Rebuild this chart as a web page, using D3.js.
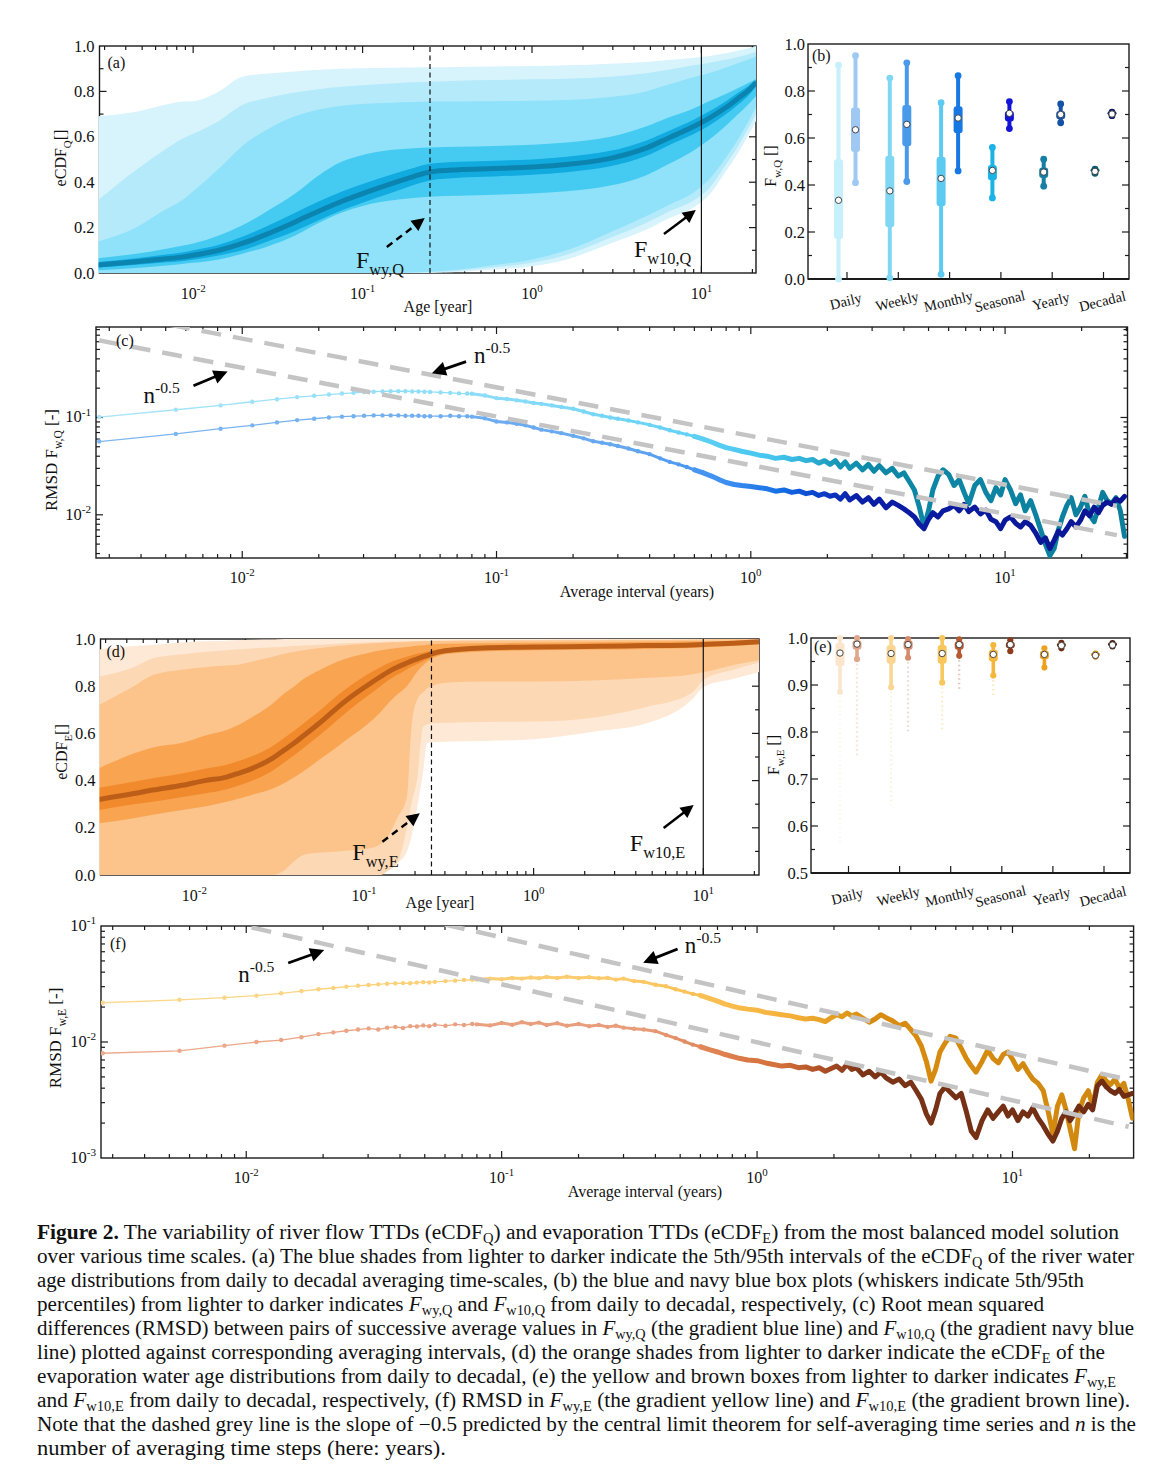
<!DOCTYPE html>
<html>
<head>
<meta charset="utf-8">
<script src="https://cdn.jsdelivr.net/npm/d3@7"></script>
<style>
  body { margin: 0; background: #fff; }
  text { font-family: "Liberation Serif", "Times New Roman", serif; fill: #111; }
</style>
</head>
<body>
<script>
// categories shared by (b) and (e)
var timeScales = ['Daily', 'Weekly', 'Monthly', 'Seasonal', 'Yearly', 'Decadal'];

// (a) eCDF_Q 5th/95th envelopes for each averaging scale, age in years
var ageQ = [0.00274, 0.0046, 0.0067, 0.0086, 0.01, 0.0142, 0.0195, 0.027, 0.04, 0.055, 0.075, 0.1, 0.15, 0.2, 0.25, 0.37, 0.6, 1, 1.6, 2.9, 4.7, 6.4, 9, 11, 14, 16.5, 19, 21];
var ecdfQDailyHi    = [0.69, 0.71, 0.74, 0.755, 0.757, 0.80, 0.865, 0.878, 0.888, 0.895, 0.90, 0.902, 0.904, 0.905, 0.906, 0.908, 0.91, 0.912, 0.915, 0.922, 0.93, 0.938, 0.948, 0.955, 0.968, 0.98, 0.99, 1.0];
var ecdfQDailyLo    = [0, 0, 0, 0, 0, 0, 0, 0, 0, 0, 0, 0, 0, 0, 0, 0.005, 0.015, 0.03, 0.06, 0.13, 0.19, 0.24, 0.29, 0.34, 0.45, 0.53, 0.61, 0.67];
var ecdfQWeeklyHi   = [0.32, 0.454, 0.54, 0.59, 0.613, 0.67, 0.74, 0.77, 0.795, 0.81, 0.82, 0.827, 0.835, 0.84, 0.843, 0.847, 0.85, 0.853, 0.856, 0.865, 0.88, 0.895, 0.915, 0.925, 0.94, 0.952, 0.964, 0.975];
var ecdfQWeeklyLo   = [0, 0, 0, 0, 0, 0, 0, 0, 0, 0, 0, 0, 0, 0, 0.003, 0.01, 0.025, 0.045, 0.08, 0.155, 0.22, 0.27, 0.32, 0.37, 0.48, 0.56, 0.64, 0.70];
var ecdfQMonthlyHi  = [0.138, 0.2, 0.275, 0.32, 0.36, 0.46, 0.56, 0.63, 0.69, 0.72, 0.737, 0.745, 0.75, 0.753, 0.755, 0.756, 0.757, 0.759, 0.762, 0.775, 0.8, 0.83, 0.862, 0.88, 0.905, 0.925, 0.94, 0.955];
var ecdfQMonthlyLo  = [0, 0, 0, 0, 0, 0, 0, 0, 0, 0, 0, 0, 0, 0.003, 0.006, 0.015, 0.035, 0.06, 0.1, 0.18, 0.25, 0.3, 0.355, 0.41, 0.51, 0.59, 0.67, 0.73];
var ecdfQSeasonalHi = [0.065, 0.085, 0.105, 0.12, 0.13, 0.165, 0.21, 0.27, 0.35, 0.43, 0.49, 0.52, 0.543, 0.55, 0.553, 0.556, 0.56, 0.565, 0.575, 0.6, 0.645, 0.685, 0.725, 0.755, 0.79, 0.815, 0.838, 0.855];
var ecdfQSeasonalLo = [0.012, 0.022, 0.032, 0.04, 0.045, 0.06, 0.085, 0.115, 0.165, 0.22, 0.265, 0.295, 0.32, 0.33, 0.336, 0.34, 0.345, 0.35, 0.36, 0.385, 0.43, 0.48, 0.54, 0.585, 0.65, 0.7, 0.745, 0.78];
var ecdfQYearlyHi   = [0.048, 0.065, 0.08, 0.09, 0.1, 0.125, 0.16, 0.205, 0.265, 0.315, 0.358, 0.392, 0.435, 0.463, 0.481, 0.49, 0.495, 0.5, 0.512, 0.538, 0.583, 0.626, 0.675, 0.71, 0.758, 0.795, 0.825, 0.85];
var ecdfQYearlyLo   = [0.024, 0.036, 0.046, 0.052, 0.058, 0.077, 0.1, 0.137, 0.185, 0.232, 0.275, 0.31, 0.355, 0.388, 0.408, 0.42, 0.425, 0.433, 0.444, 0.47, 0.515, 0.562, 0.612, 0.648, 0.7, 0.742, 0.782, 0.82];
var ecdfQDecadal    = [0.035, 0.05, 0.062, 0.07, 0.078, 0.1, 0.13, 0.17, 0.225, 0.272, 0.315, 0.35, 0.395, 0.425, 0.445, 0.455, 0.46, 0.467, 0.478, 0.505, 0.55, 0.595, 0.645, 0.68, 0.73, 0.77, 0.805, 0.84];

// (d) eCDF_E envelopes
var ageE = [0.00274, 0.0044, 0.0057, 0.0085, 0.0115, 0.0155, 0.0175, 0.022, 0.029, 0.034, 0.039, 0.044, 0.055, 0.07, 0.085, 0.103, 0.125, 0.14, 0.157, 0.179, 0.19, 0.205, 0.224, 0.235, 0.25, 0.3, 0.5, 1, 2.4, 4.5, 8.5, 10.2, 15, 21.3];
var ecdfEDailyHi    = [0.955, 0.97, 0.975, 0.985, 0.99, 0.993, 0.995, 0.997, 0.998, 1, 1, 1, 1, 1, 1, 1, 1, 1, 1, 1, 1, 1, 1, 1, 1, 1, 1, 1, 1, 1, 1, 1, 1, 1];
var ecdfEDailyLo    = [0, 0, 0, 0, 0, 0, 0, 0, 0, 0, 0, 0, 0, 0, 0, 0, 0.007, 0.025, 0.05, 0.1, 0.16, 0.28, 0.445, 0.558, 0.562, 0.565, 0.568, 0.575, 0.61, 0.64, 0.74, 0.8, 0.83, 0.86];
var ecdfEWeeklyHi   = [0.84, 0.88, 0.918, 0.935, 0.945, 0.952, 0.955, 0.96, 0.965, 0.967, 0.97, 0.972, 0.976, 0.98, 0.983, 0.985, 0.987, 0.988, 0.989, 0.99, 0.99, 0.991, 0.992, 0.992, 0.993, 0.994, 0.995, 0.996, 0.997, 0.998, 0.999, 1, 1, 1];
var ecdfEWeeklyLo   = [0, 0, 0, 0, 0, 0, 0, 0, 0, 0, 0, 0, 0, 0, 0, 0, 0, 0.02, 0.05, 0.2, 0.3, 0.4, 0.63, 0.638, 0.643, 0.645, 0.648, 0.65, 0.67, 0.71, 0.77, 0.83, 0.87, 0.9];
var ecdfEMonthlyHi  = [0.72, 0.8, 0.847, 0.87, 0.88, 0.888, 0.89, 0.905, 0.925, 0.938, 0.946, 0.952, 0.962, 0.97, 0.976, 0.98, 0.983, 0.985, 0.986, 0.987, 0.988, 0.989, 0.99, 0.99, 0.991, 0.992, 0.993, 0.994, 0.995, 0.996, 0.997, 0.998, 0.999, 1.0];
var ecdfEMonthlyLo  = [0, 0, 0, 0, 0, 0, 0, 0, 0, 0.02, 0.06, 0.085, 0.095, 0.1, 0.105, 0.11, 0.13, 0.17, 0.24, 0.33, 0.614, 0.74, 0.775, 0.79, 0.8, 0.815, 0.82, 0.82, 0.825, 0.835, 0.85, 0.86, 0.89, 0.91];
var ecdfESeasonalHi = [0.452, 0.515, 0.54, 0.56, 0.59, 0.614, 0.63, 0.67, 0.727, 0.77, 0.8, 0.83, 0.869, 0.905, 0.925, 0.939, 0.952, 0.958, 0.962, 0.966, 0.968, 0.971, 0.974, 0.976, 0.978, 0.98, 0.982, 0.984, 0.986, 0.988, 0.99, 0.99, 0.992, 0.995];
var ecdfESeasonalLo = [0.219, 0.24, 0.255, 0.275, 0.29, 0.31, 0.32, 0.34, 0.367, 0.39, 0.415, 0.44, 0.49, 0.545, 0.59, 0.635, 0.69, 0.73, 0.765, 0.8, 0.825, 0.86, 0.89, 0.903, 0.915, 0.935, 0.947, 0.952, 0.955, 0.958, 0.962, 0.965, 0.97, 0.978];
var ecdfEYearlyHi   = [0.37, 0.395, 0.41, 0.43, 0.45, 0.467, 0.479, 0.504, 0.547, 0.582, 0.612, 0.642, 0.697, 0.762, 0.807, 0.846, 0.88, 0.898, 0.912, 0.925, 0.93, 0.937, 0.943, 0.946, 0.95, 0.96, 0.969, 0.972, 0.975, 0.978, 0.98, 0.982, 0.986, 0.991];
var ecdfEYearlyLo   = [0.275, 0.3, 0.31, 0.33, 0.345, 0.363, 0.375, 0.4, 0.443, 0.478, 0.508, 0.538, 0.593, 0.658, 0.709, 0.754, 0.8, 0.826, 0.848, 0.871, 0.882, 0.893, 0.907, 0.914, 0.924, 0.94, 0.955, 0.96, 0.963, 0.966, 0.97, 0.972, 0.978, 0.985];
var ecdfEDecadal    = [0.32, 0.345, 0.36, 0.38, 0.4, 0.415, 0.427, 0.452, 0.495, 0.53, 0.56, 0.59, 0.645, 0.71, 0.758, 0.8, 0.84, 0.862, 0.88, 0.898, 0.906, 0.915, 0.925, 0.93, 0.937, 0.95, 0.962, 0.966, 0.969, 0.972, 0.975, 0.977, 0.982, 0.988];

// young water (3 months) and 10-year thresholds
var refAges = [0.25, 10];

// (b) box stats [5th, 25th, 75th, 95th, mean]
var fwyQStats  = [[0.0, 0.17, 0.51, 0.91, 0.335], [0.005, 0.22, 0.525, 0.855, 0.375], [0.02, 0.31, 0.52, 0.75, 0.428], [0.345, 0.42, 0.485, 0.56, 0.462], [0.395, 0.43, 0.475, 0.51, 0.455], [0.45, 0.452, 0.465, 0.467, 0.458]];
var fw10QStats = [[0.41, 0.54, 0.73, 0.95, 0.635], [0.415, 0.565, 0.74, 0.92, 0.658], [0.46, 0.62, 0.735, 0.865, 0.685], [0.64, 0.67, 0.715, 0.755, 0.705], [0.665, 0.68, 0.715, 0.745, 0.70], [0.695, 0.697, 0.707, 0.71, 0.702]];
// (e)
var fwyEStats  = [[0.885, 0.94, 0.99, 1.0, 0.968], [0.895, 0.945, 0.985, 1.0, 0.967], [0.905, 0.945, 0.985, 1.0, 0.967], [0.92, 0.95, 0.975, 0.985, 0.965], [0.937, 0.955, 0.973, 0.978, 0.965], [0.96, 0.961, 0.966, 0.967, 0.963]];
var fw10EStats = [[0.955, 0.975, 0.995, 1.0, 0.987], [0.958, 0.975, 0.995, 0.998, 0.986], [0.962, 0.975, 0.993, 0.997, 0.986], [0.972, 0.978, 0.992, 0.995, 0.986], [0.978, 0.98, 0.99, 0.99, 0.984], [0.982, 0.983, 0.988, 0.989, 0.985]];
var fwyEOutMin  = [0.56, 0.645, 0.805, 0.875, null, null];
var fw10EOutMin = [0.745, 0.795, 0.89, null, null, null];

// (c),(f) RMSD vs averaging interval; first part in days, then years
var sparseDays = [1, 2, 3, 4, 5, 6, 7, 8, 9, 10, 11, 12, 13, 14, 15, 16, 17, 18, 19, 20, 22, 24, 26, 28];
var denseYears = [0.08, 0.09, 0.10, 0.11, 0.12, 0.13, 0.14, 0.15, 0.165, 0.18,
  0.20, 0.22, 0.24, 0.26, 0.28, 0.30, 0.33, 0.36, 0.40, 0.44,
  0.48, 0.52, 0.56, 0.60, 0.65, 0.70, 0.75, 0.80, 0.86, 0.92,
  1.0, 1.08, 1.16, 1.25, 1.35, 1.45, 1.55, 1.65, 1.75, 1.85,
  1.95, 2.05, 2.15, 2.25, 2.35, 2.45, 2.6, 2.75, 2.9, 3.05,
  3.2, 3.4, 3.6, 3.8, 4.0, 4.2, 4.4, 4.6, 4.8, 5.0,
  5.2, 5.45, 5.7, 6.0, 6.3, 6.6, 6.9, 7.2, 7.6, 8.0,
  8.4, 8.8, 9.2, 9.6, 10.0, 10.5, 11.0, 11.5, 12.0, 12.6,
  13.2, 13.8, 14.4, 15.0, 15.6, 16.2, 16.8, 17.5, 18.2, 19.0,
  19.8, 20.6, 21.5, 22.4, 23.3, 24.2, 25.2, 26.2, 27.3, 28.4, 29.5];

var rmsdFwyQSparse  = [0.101, 0.120, 0.133, 0.145, 0.154, 0.162, 0.167, 0.172, 0.176, 0.179, 0.182, 0.184, 0.185, 0.186, 0.186, 0.186, 0.185, 0.185, 0.184, 0.183, 0.181, 0.179, 0.177, 0.176];
var rmsdFwyQDense = [0.175, 0.168, 0.158, 0.155, 0.150, 0.146, 0.141, 0.138, 0.133, 0.128,
  0.123, 0.115, 0.108, 0.104, 0.100, 0.097, 0.093, 0.089, 0.084, 0.079,
  0.074, 0.070, 0.067, 0.064, 0.060, 0.056, 0.052, 0.049, 0.047, 0.045,
  0.043, 0.041, 0.040, 0.038, 0.039, 0.037, 0.038, 0.036, 0.037, 0.034,
  0.036, 0.033, 0.036, 0.031, 0.035, 0.030, 0.034, 0.029, 0.033, 0.028,
  0.032, 0.027, 0.030, 0.025, 0.027, 0.022, 0.018, 0.012, 0.0075, 0.011,
  0.018, 0.025, 0.029, 0.026, 0.020, 0.023, 0.017, 0.013, 0.020, 0.023,
  0.017, 0.014, 0.019, 0.016, 0.023, 0.018, 0.013, 0.016, 0.011, 0.014,
  0.010, 0.007, 0.005, 0.0038, 0.0045, 0.007, 0.0095, 0.0125, 0.015, 0.010,
  0.012, 0.0155, 0.010, 0.0085, 0.012, 0.017, 0.014, 0.013, 0.015, 0.011, 0.006];
var rmsdFw10QSparse = [0.0566, 0.0678, 0.0767, 0.083, 0.089, 0.094, 0.097, 0.100, 0.102, 0.103, 0.104, 0.105, 0.105, 0.105, 0.105, 0.104, 0.104, 0.104, 0.103, 0.103, 0.103, 0.104, 0.103, 0.103];
var rmsdFw10QDense = [0.102, 0.098, 0.091, 0.089, 0.086, 0.083, 0.079, 0.075, 0.072, 0.069,
  0.065, 0.061, 0.057, 0.055, 0.053, 0.051, 0.048, 0.045, 0.042, 0.038,
  0.035, 0.033, 0.031, 0.029, 0.027, 0.025, 0.023, 0.0215, 0.0205, 0.020,
  0.0195, 0.019, 0.0185, 0.0175, 0.018, 0.017, 0.0175, 0.0165, 0.017, 0.0158,
  0.0165, 0.0155, 0.016, 0.0145, 0.0165, 0.0142, 0.0158, 0.0135, 0.015, 0.0128,
  0.0145, 0.0118, 0.0135, 0.0125, 0.0115, 0.0105, 0.0095, 0.008, 0.0072, 0.009,
  0.0105, 0.0095, 0.011, 0.0115, 0.0125, 0.011, 0.0128, 0.0108, 0.012, 0.0102,
  0.0112, 0.009, 0.0085, 0.0072, 0.0088, 0.0095, 0.0082, 0.0075, 0.0085, 0.0078,
  0.0065, 0.0052, 0.0058, 0.0045, 0.0055, 0.0068, 0.0062, 0.0072, 0.0085, 0.0075,
  0.0088, 0.011, 0.0098, 0.012, 0.0105, 0.0125, 0.0135, 0.0128, 0.0145, 0.0138, 0.0155];
var rmsdFwyESparse  = [0.0218, 0.0231, 0.0241, 0.0251, 0.0263, 0.0275, 0.0285, 0.0292, 0.030, 0.0305, 0.031, 0.0314, 0.0318, 0.032, 0.0322, 0.0321, 0.0325, 0.0328, 0.0326, 0.033, 0.0335, 0.0338, 0.0342, 0.0344];
var rmsdFwyEDense = [0.0345, 0.0352, 0.0348, 0.0356, 0.0352, 0.036, 0.0355, 0.0363, 0.0357, 0.0365,
  0.0356, 0.0362, 0.0354, 0.0357, 0.0345, 0.0352, 0.0335, 0.033, 0.0312, 0.0302,
  0.0285, 0.0272, 0.026, 0.0252, 0.0238, 0.0225, 0.0212, 0.0204, 0.0196, 0.0192,
  0.0188, 0.018, 0.0176, 0.0172, 0.0168, 0.0162, 0.0158, 0.016, 0.0156, 0.015,
  0.0162, 0.0172, 0.0165, 0.0178, 0.0168, 0.0174, 0.016, 0.0148, 0.0158, 0.0172,
  0.0162, 0.0152, 0.0138, 0.0145, 0.0128, 0.0112, 0.0092, 0.0068, 0.0046, 0.0058,
  0.0082, 0.0098, 0.0112, 0.0108, 0.0088, 0.0072, 0.0062, 0.0055, 0.0068, 0.0085,
  0.0072, 0.0066, 0.0078, 0.0082, 0.0071, 0.0058, 0.0065, 0.0055, 0.0048, 0.0044,
  0.0038, 0.0025, 0.0016, 0.0028, 0.0035, 0.0026, 0.0018, 0.0012, 0.0025, 0.0033,
  0.0038, 0.0028, 0.0045, 0.0052, 0.0046, 0.0043, 0.0048, 0.004, 0.0044, 0.0032, 0.0022];
var rmsdFw10ESparse = [0.008, 0.0084, 0.0093, 0.010, 0.0104, 0.011, 0.0117, 0.0121, 0.0125, 0.0128, 0.0131, 0.0128, 0.0133, 0.0135, 0.0132, 0.0137, 0.0136, 0.0139, 0.0137, 0.0141, 0.0138, 0.0142, 0.014, 0.0143];
var rmsdFw10EDense = [0.0142, 0.0139, 0.0146, 0.0141, 0.0148, 0.0143, 0.0147, 0.014, 0.0145, 0.0138,
  0.0143, 0.0137, 0.014, 0.0135, 0.0138, 0.0133, 0.013, 0.0128, 0.0124, 0.0115,
  0.0108, 0.0101, 0.0095, 0.0091, 0.0086, 0.0082, 0.0078, 0.0075, 0.0072, 0.007,
  0.0069, 0.0066, 0.0064, 0.0062, 0.0063, 0.006, 0.0061, 0.0058, 0.006, 0.0056,
  0.0059, 0.0062, 0.0057, 0.0064, 0.0058, 0.006, 0.0052, 0.0056, 0.005, 0.0055,
  0.0049, 0.0045, 0.0048, 0.0042, 0.0045, 0.0038, 0.0032, 0.0024, 0.002, 0.0026,
  0.0036, 0.0041, 0.0037, 0.0033, 0.0036, 0.0025, 0.0017, 0.0015, 0.0021, 0.0026,
  0.0022, 0.0025, 0.0028, 0.0023, 0.0026, 0.0021, 0.0025, 0.0023, 0.0027, 0.0022,
  0.0019, 0.0016, 0.0014, 0.0017, 0.0022, 0.0025, 0.0021, 0.0024, 0.0028, 0.0025,
  0.0029, 0.0026, 0.0042, 0.0046, 0.0041, 0.0038, 0.0036, 0.0039, 0.0034, 0.0035, 0.0036];

// n^-0.5 guide lines, end points [interval, rmsd]
var slopeLinesC = [[[0.0052, 0.895], [27.5, 0.0123]], [[0.00274, 0.619], [27.5, 0.00618]]];
var slopeLinesF = [[[0.06, 0.103], [27, 0.00485]], [[0.0105, 0.0971], [28.5, 0.00186]]];

// annotation anchors in data units
var notesA = [[0.0914, 0.022, 'wy,Q'], [4.0, 0.0705, 'w10,Q']];
var arrowsA = [[0.139, 0.1145, 0.2328, 0.2423, true], [6.01, 0.1718, 9.27, 0.2775, false]];
var notesD = [[0.0854, 0.0636, 'wy,E'], [3.69, 0.1017, 'w10,E']];
var arrowsD = [[0.1285, 0.141, 0.2133, 0.2614, true], [5.84, 0.199, 8.78, 0.2966, false]];
var notesC = [[0.00409, 0.141], [0.0816, 0.363]];
var arrowsC = [[0.00643, 0.212, 0.00876, 0.296], [0.0759, 0.3746, 0.0557, 0.2846]];
var notesF = [[0.0093, 0.0329], [0.521, 0.0585]];
var arrowsF = [[0.0146, 0.048, 0.0202, 0.062], [0.4884, 0.0634, 0.358, 0.0483]];

// ---------------------------------------------------------------
var svg = d3.select('body').append('svg').attr('width', 1168).attr('height', 1481).style('display', 'block');
svg.append('rect').attr('width', 1168).attr('height', 1481).attr('fill', '#fff');
var defs = svg.append('defs');
var INK = '#1b1b1b';

function rich(sel, parts, size, subShift) {
  var shift = 0, sub = subShift || 0.3;
  parts.forEach(function (p) {
    var t = sel.append('tspan').text(p[0]);
    var want = p[1] === 'sub' ? size * sub : (p[1] === 'sup' ? -size * 0.42 : 0);
    if (want !== shift) { t.attr('dy', want - shift); shift = want; }
    if (p[1] === 'sub' || p[1] === 'sup') t.attr('font-size', (size * 0.68) + 'px');
    if (p[1] === 'i') t.attr('font-style', 'italic');
    if (p[1] === 'b') t.attr('font-weight', 'bold');
  });
  return sel;
}
function label(g, x, y, parts, size, anchor, rot) {
  var t = g.append('text').attr('font-size', size + 'px').attr('text-anchor', anchor || 'start');
  if (rot) t.attr('transform', 'translate(' + x + ',' + y + ') rotate(' + rot + ')');
  else t.attr('x', x).attr('y', y);
  return rich(t, parts, size);
}
function logTicks(s) {
  return s.ticks().map(function (v) {
    var e = Math.log10(v);
    return { v: v, major: Math.abs(e - Math.round(e)) < 1e-6 };
  });
}
function linTicks(s, step) {
  var d = s.domain(), n = Math.round((d[1] - d[0]) / (step / 2)), out = [];
  for (var i = 0; i <= n; i++) out.push({ v: d[0] + i * step / 2, major: i % 2 === 0 });
  return out;
}
function frame(g, X, Y, x, y, xt, yt, top) {
  g.append('rect').attr('x', X[0]).attr('y', Y[1]).attr('width', X[1] - X[0]).attr('height', Y[0] - Y[1])
    .attr('fill', 'none').attr('stroke', INK).attr('stroke-width', 1.4);
  var tg = g.append('g').attr('stroke', INK).attr('stroke-width', 1.2);
  xt.forEach(function (t) {
    var p = x(t.v); if (p < X[0] + 1 || p > X[1] - 1) return;
    var L = t.major ? 7 : 4;
    tg.append('line').attr('x1', p).attr('x2', p).attr('y1', Y[0]).attr('y2', Y[0] - L);
    if (top) tg.append('line').attr('x1', p).attr('x2', p).attr('y1', Y[1]).attr('y2', Y[1] + L);
  });
  yt.forEach(function (t) {
    var p = y(t.v); if (p > Y[0] - 1 || p < Y[1] + 1) return;
    var L = t.major ? 7 : 4;
    tg.append('line').attr('y1', p).attr('y2', p).attr('x1', X[0]).attr('x2', X[0] + L);
    tg.append('line').attr('y1', p).attr('y2', p).attr('x1', X[1]).attr('x2', X[1] - L);
  });
}
function decadeLabelsX(g, x, ticks, yBase) {
  ticks.filter(function (t) { return t.major; }).forEach(function (t) {
    label(g, x(t.v), yBase, [['10', ''], [String(Math.round(Math.log10(t.v))), 'sup']], 16, 'middle');
  });
}
function decadeLabelsY(g, y, ticks, xEnd) {
  ticks.filter(function (t) { return t.major; }).forEach(function (t) {
    label(g, xEnd, y(t.v) + 5, [['10', ''], [String(Math.round(Math.log10(t.v))), 'sup']], 16.5, 'end');
  });
}
function arrow(g, x1, y1, x2, y2, dashed, w, hl, hw) {
  var dx = x2 - x1, dy = y2 - y1, L = Math.sqrt(dx * dx + dy * dy), ux = dx / L, uy = dy / L;
  var bx = x2 - ux * hl, by = y2 - uy * hl;
  g.append('line').attr('x1', x1).attr('y1', y1).attr('x2', bx + ux * 1).attr('y2', by + uy * 1)
    .attr('stroke', '#000').attr('stroke-width', w).attr('stroke-dasharray', dashed ? '7,5' : null);
  g.append('path').attr('d', 'M' + x2 + ',' + y2 + 'L' + (bx - uy * hw) + ',' + (by + ux * hw) + 'L' + (bx + uy * hw) + ',' + (by - ux * hw) + 'Z')
    .attr('fill', '#000');
}
function clip(id, X, Y, pad) {
  defs.append('clipPath').attr('id', id).append('rect')
    .attr('x', X[0] - pad).attr('y', Y[1] - pad).attr('width', X[1] - X[0] + 2 * pad).attr('height', Y[0] - Y[1] + 2 * pad);
  return 'url(#' + id + ')';
}

// ---------------- eCDF panels (a) and (d) ----------------
function ecdfPanel(o) {
  var x = d3.scaleLog().domain(o.xDom).range(o.X);
  var y = d3.scaleLinear().domain([0, 1]).range(o.Y);
  var g = svg.append('g');
  var xt = logTicks(x);
  frame(g, o.X, o.Y, x, y, xt, linTicks(y, 0.2), true);
  var dg = g.append('g').attr('clip-path', clip(o.id, o.X, o.Y, 0.8));
  o.bands.forEach(function (b, k) {
    var area = d3.area()
      .x(function (d) { return x(d); })
      .y0(function (d, i) { return y(b[0][i]); })
      .y1(function (d, i) { return y(b[1][i]); })
      .curve(d3.curveMonotoneX);
    dg.append('path').attr('d', area(o.ages)).attr('fill', o.colors[k]);
  });
  var mid = d3.line().x(function (d) { return x(d); }).y(function (d, i) { return y(o.mid[i]); }).curve(d3.curveMonotoneX);
  dg.append('path').attr('d', mid(o.ages)).attr('fill', 'none').attr('stroke', o.midColor).attr('stroke-width', 5);
  refAges.forEach(function (a, k) {
    g.append('line').attr('x1', x(a)).attr('x2', x(a)).attr('y1', o.Y[0]).attr('y2', o.Y[1])
      .attr('stroke', '#111').attr('stroke-width', 1.2).attr('stroke-dasharray', k === 0 ? '5,3.5' : null);
  });
  o.notes.forEach(function (n) {
    label(g, x(n[0]), y(n[1]), [['F', ''], [n[2], 'sub']], 24);
  });
  o.arrows.forEach(function (a) {
    arrow(g, x(a[0]), y(a[1]), x(a[2]), y(a[3]), a[4], 2.4, 13, 6.5);
  });
  linTicks(y, 0.2).filter(function (t) { return t.major; }).forEach(function (t) {
    label(g, o.X[0] - 5, y(t.v) + 5.5, [[t.v.toFixed(1), '']], 16.5, 'end');
  });
  decadeLabelsX(g, x, xt, o.Y[0] + 26);
  label(g, o.titleX, o.Y[0] + o.titleDy, [['Age [year]', '']], 16, 'middle');
  label(g, o.ylabX, o.ylabY, [['eCDF', ''], [o.sub, 'sub'], ['[]', '']], 16, 'middle', -90);
  label(g, o.X[0] + o.tag[1], o.Y[1] + o.tag[2], [[o.tag[0], '']], 16);
}

ecdfPanel({
  id: 'clipA', xDom: [0.0028, 21], X: [99.5, 756], Y: [273, 46], ages: ageQ,
  bands: [[ecdfQDailyLo, ecdfQDailyHi], [ecdfQWeeklyLo, ecdfQWeeklyHi], [ecdfQMonthlyLo, ecdfQMonthlyHi],
          [ecdfQSeasonalLo, ecdfQSeasonalHi], [ecdfQYearlyLo, ecdfQYearlyHi]],
  colors: ['#d7f3fc', '#b4eafa', '#8fe2f9', '#45cbf2', '#12abdf'],
  mid: ecdfQDecadal, midColor: '#0b84b0',
  notes: notesA, arrows: arrowsA, titleX: 438, titleDy: 39, ylabX: 66, ylabY: 158, sub: 'Q', tag: ['(a)', 8, 22]
});
ecdfPanel({
  id: 'clipD', xDom: [0.0028, 21.3], X: [100.5, 759], Y: [875, 639], ages: ageE,
  bands: [[ecdfEDailyLo, ecdfEDailyHi], [ecdfEWeeklyLo, ecdfEWeeklyHi], [ecdfEMonthlyLo, ecdfEMonthlyHi],
          [ecdfESeasonalLo, ecdfESeasonalHi], [ecdfEYearlyLo, ecdfEYearlyHi]],
  colors: ['#fde9d6', '#fdd8b4', '#fcc38a', '#f9a451', '#f08a2c'],
  mid: ecdfEDecadal, midColor: '#bd5e18',
  notes: notesD, arrows: arrowsD, titleX: 440, titleDy: 33, ylabX: 67, ylabY: 752, sub: 'E', tag: ['(d)', 6, 18]
});

// ---------------- box panels (b) and (e) ----------------
function boxPanel(o) {
  var xc = d3.scalePoint().domain(timeScales).range(o.cx);
  var y = d3.scaleLinear().domain(o.yDom).range(o.Y);
  var g = svg.append('g');
  var yt = linTicks(y, o.step);
  frame(g, o.X, o.Y, function (c) { return xc(c); }, y, timeScales.map(function (c) { return { v: c, major: true }; }), yt, false);
  g.append('line').attr('x1', o.X[0]).attr('x2', o.X[1]).attr('y1', o.Y[0]).attr('y2', o.Y[0]).attr('stroke', INK).attr('stroke-width', 2);
  function boxes(stats, colors, dx, outMin) {
    stats.forEach(function (s, i) {
      var cx = xc(timeScales[i]) + dx, c = colors[i];
      if (outMin && outMin[i] != null) {
        g.append('line').attr('x1', cx).attr('x2', cx).attr('y1', y(s[0])).attr('y2', y(outMin[i]))
          .attr('stroke', c).attr('stroke-width', 2.2).attr('stroke-dasharray', '1.5,3').attr('opacity', 0.35);
      }
      g.append('line').attr('x1', cx).attr('x2', cx).attr('y1', y(s[0])).attr('y2', y(s[3]))
        .attr('stroke', c).attr('stroke-width', o.ww);
      [s[0], s[3]].forEach(function (v) {
        g.append('circle').attr('cx', cx).attr('cy', y(v)).attr('r', o.ww * 0.85).attr('fill', c);
      });
      var top = y(s[2]), h = Math.max(y(s[1]) - top, 4);
      g.append('rect').attr('x', cx - o.bw / 2).attr('y', top - (h === 4 ? 1.5 : 0)).attr('width', o.bw).attr('height', h)
        .attr('rx', 3).attr('fill', c);
      g.append('circle').attr('cx', cx).attr('cy', y(s[4])).attr('r', 3.2).attr('fill', '#fff').attr('stroke', '#333').attr('stroke-width', 0.9);
    });
  }
  boxes(o.light, o.lightColors, -8.5, o.lightOut);
  boxes(o.dark, o.darkColors, 8.5, o.darkOut);
  yt.filter(function (t) { return t.major; }).forEach(function (t) {
    label(g, o.X[0] - 3, y(t.v) + 5.5, [[t.v.toFixed(1), '']], 16.5, 'end');
  });
  timeScales.forEach(function (c) {
    label(g, xc(c), o.Y[0] + o.catDy, [[c, '']], 14.5, 'middle', -14);
  });
  label(g, o.ylabX, o.ylabY, [['F', ''], [o.sub, 'sub'], [' []', '']], 16, 'middle', -90);
  label(g, o.X[0] + o.tag[1], o.Y[1] + o.tag[2], [[o.tag[0], '']], 16);
}

boxPanel({
  X: [808, 1129], Y: [279, 44], cx: [847, 1103.5], yDom: [0, 1], step: 0.2, ww: 4, bw: 9,
  light: fwyQStats, dark: fw10QStats,
  lightColors: ['#c6f0fb', '#80d7f3', '#5ccaf1', '#1bb3e5', '#167fa3', '#0c5a72'],
  darkColors: ['#9fc9f3', '#4a9aec', '#1878e3', '#1414d6', '#1552a6', '#0b1c6a'],
  catDy: 27, ylabX: 776, ylabY: 166, sub: 'w,Q', tag: ['(b)', 4, 17]
});
boxPanel({
  X: [811, 1130], Y: [873, 638], cx: [848.5, 1104], yDom: [0.5, 1], step: 0.1, ww: 3.6, bw: 9,
  light: fwyEStats, dark: fw10EStats, lightOut: fwyEOutMin, darkOut: fw10EOutMin,
  lightColors: ['#fbe6cc', '#fbd693', '#f8c75e', '#f5b63b', '#eca220', '#cf9016'],
  darkColors: ['#e1a78c', '#d68b6e', '#b65a32', '#8e3b1b', '#6d2c12', '#4b1b0a'],
  catDy: 28, ylabX: 779, ylabY: 755, sub: 'w,E', tag: ['(e)', 3, 14]
});

// ---------------- RMSD panels (c) and (f) ----------------
function gradient(id, x, stops) {
  var X = x.range();
  var lg = defs.append('linearGradient').attr('id', id).attr('gradientUnits', 'userSpaceOnUse')
    .attr('x1', X[0]).attr('x2', X[1]).attr('y1', 0).attr('y2', 0);
  stops.forEach(function (s) {
    lg.append('stop').attr('offset', (x(s[0]) - X[0]) / (X[1] - X[0])).attr('stop-color', s[1]);
  });
  return 'url(#' + id + ')';
}
function rmsdPanel(o) {
  var x = d3.scaleLog().domain(o.xDom).range(o.X);
  var y = d3.scaleLog().domain(o.yDom).range(o.Y);
  var g = svg.append('g');
  var xt = logTicks(x), yt = logTicks(y);
  frame(g, o.X, o.Y, x, y, xt, yt, true);
  var dg = g.append('g').attr('clip-path', clip(o.id, o.X, o.Y, 0));
  var line = d3.line().x(function (d) { return x(d[0]); }).y(function (d) { return y(d[1]); });
  o.series.forEach(function (s, k) {
    var paint = gradient(o.id + 'g' + k, x, s.stops);
    var sparse = sparseDays.map(function (n, i) { return [n / 365, s.sparse[i]]; });
    var dense = denseYears.map(function (v, i) { return [v, s.dense[i]]; });
    dg.append('path').attr('d', line(sparse.concat(dense))).attr('fill', 'none').attr('stroke', paint).attr('stroke-width', 1.3);
    dg.append('path').attr('d', line(dense.slice(0, 24))).attr('fill', 'none').attr('stroke', paint).attr('stroke-width', 3)
      .attr('stroke-linejoin', 'round');
    dg.append('path').attr('d', line(dense.slice(23))).attr('fill', 'none').attr('stroke', paint).attr('stroke-width', 5)
      .attr('stroke-linejoin', 'round').attr('stroke-linecap', 'round');
    dg.selectAll(null).data(sparse.concat(dense.slice(0, 30))).enter().append('circle')
      .attr('cx', function (d) { return x(d[0]); }).attr('cy', function (d) { return y(d[1]); })
      .attr('r', 2.2).attr('fill', paint);
  });
  o.slopes.forEach(function (sl) {
    dg.append('path').attr('d', line(sl)).attr('fill', 'none').attr('stroke', '#c4c4c4')
      .attr('stroke-width', 4.5).attr('stroke-dasharray', '20,12');
  });
  o.notes.forEach(function (n) {
    label(g, x(n[0]), y(n[1]), [['n', ''], ['-0.5', 'sup']], 23);
  });
  o.arrows.forEach(function (a) {
    arrow(g, x(a[0]), y(a[1]), x(a[2]), y(a[3]), false, 2.8, 14, 7);
  });
  decadeLabelsX(g, x, xt, o.Y[0] + 25);
  decadeLabelsY(g, y, yt, o.X[0] - 5);
  label(g, o.titleX, o.Y[0] + 39, [['Average interval (years)', '']], 16, 'middle');
  label(g, o.ylabX, o.ylabY, [['RMSD F', ''], [o.sub, 'sub'], [' [-]', '']], 17, 'middle', -90);
  label(g, o.X[0] + o.tag[1], o.Y[1] + o.tag[2], [[o.tag[0], '']], 16);
}

rmsdPanel({
  id: 'clipC', xDom: [0.00266, 30.3], X: [96, 1127.5], yDom: [0.0036, 0.85], Y: [558, 327],
  series: [
    { sparse: rmsdFwyQSparse, dense: rmsdFwyQDense,
      stops: [[0.0027, '#a8e5f9'], [0.1, '#8adcf8'], [0.5, '#66d2f6'], [1.2, '#45c6ef'], [1.7, '#2fb0d6'], [2.2, '#1696b6'], [3, '#0e88a7'], [30, '#0b7e9c']] },
    { sparse: rmsdFw10QSparse, dense: rmsdFw10QDense,
      stops: [[0.0027, '#7fb8ef'], [0.3, '#66a8f0'], [0.8, '#3e8ff0'], [1.3, '#1470e6'], [1.9, '#0b3dc8'], [2.6, '#0a1ea6'], [30, '#0a1592']] }
  ],
  slopes: slopeLinesC, notes: notesC, arrows: arrowsC,
  titleX: 637, ylabX: 57, ylabY: 460, sub: 'w,Q', tag: ['(c)', 20, 19]
});
rmsdPanel({
  id: 'clipF', xDom: [0.0027, 29.8], X: [101, 1133.6], yDom: [0.001, 0.1], Y: [1158, 926],
  series: [
    { sparse: rmsdFwyESparse, dense: rmsdFwyEDense,
      stops: [[0.0027, '#fbd98f'], [0.3, '#fcca6a'], [0.8, '#f8bc4c'], [1.4, '#f3af38'], [2.0, '#e39e20'], [2.8, '#d88c0f'], [30, '#d08810']] },
    { sparse: rmsdFw10ESparse, dense: rmsdFw10EDense,
      stops: [[0.0027, '#eeaa8c'], [0.35, '#e79c7a'], [0.7, '#df8251'], [1.3, '#d06c37'], [1.9, '#a64b22'], [2.6, '#7b3417'], [30, '#6e2c13']] }
  ],
  slopes: slopeLinesF, notes: notesF, arrows: arrowsF,
  titleX: 645, ylabX: 61, ylabY: 1038, sub: 'w,E', tag: ['(f)', 9, 23]
});

// ---------------- caption ----------------
var captionLines = [
  [['Figure 2.', 'b'], [' The variability of river flow TTDs (eCDF', ''], ['Q', 'sub'], [') and evaporation TTDs (eCDF', ''], ['E', 'sub'], [') from the most balanced model solution', '']],
  [['over various time scales. (a) The blue shades from lighter to darker indicate the 5th/95th intervals of the eCDF', ''], ['Q', 'sub'], [' of the river water', '']],
  [['age distributions from daily to decadal averaging time-scales, (b) the blue and navy blue box plots (whiskers indicate 5th/95th', '']],
  [['percentiles) from lighter to darker indicates ', ''], ['F', 'i'], ['wy,Q', 'sub'], [' and ', ''], ['F', 'i'], ['w10,Q', 'sub'], [' from daily to decadal, respectively, (c) Root mean squared', '']],
  [['differences (RMSD) between pairs of successive average values in ', ''], ['F', 'i'], ['wy,Q', 'sub'], [' (the gradient blue line) and ', ''], ['F', 'i'], ['w10,Q', 'sub'], [' (the gradient navy blue', '']],
  [['line) plotted against corresponding averaging intervals, (d) the orange shades from lighter to darker indicate the eCDF', ''], ['E', 'sub'], [' of the', '']],
  [['evaporation water age distributions from daily to decadal, (e) the yellow and brown boxes from lighter to darker indicates ', ''], ['F', 'i'], ['wy,E', 'sub']],
  [['and ', ''], ['F', 'i'], ['w10,E', 'sub'], [' from daily to decadal, respectively, (f) RMSD in ', ''], ['F', 'i'], ['wy,E', 'sub'], [' (the gradient yellow line) and ', ''], ['F', 'i'], ['w10,E', 'sub'], [' (the gradient brown line).', '']],
  [['Note that the dashed grey line is the slope of \u22120.5 predicted by the central limit theorem for self-averaging time series and ', ''], ['n', 'i'], [' is the', '']],
  [['number of averaging time steps (here: years).', '']]
];
var captionWidths = [1082, 1097, 1047, 1007, 1097, 1068, 1079, 1093, 1099, 409];
var cap = svg.append('g');
captionLines.forEach(function (parts, i) {
  var t = cap.append('text').attr('x', 37).attr('y', 1239 + i * 24).attr('font-size', '20px')
    .attr('textLength', captionWidths[i]).attr('lengthAdjust', 'spacingAndGlyphs');
  rich(t, parts, 20, 0.18);
});
</script>
</body>
</html>
